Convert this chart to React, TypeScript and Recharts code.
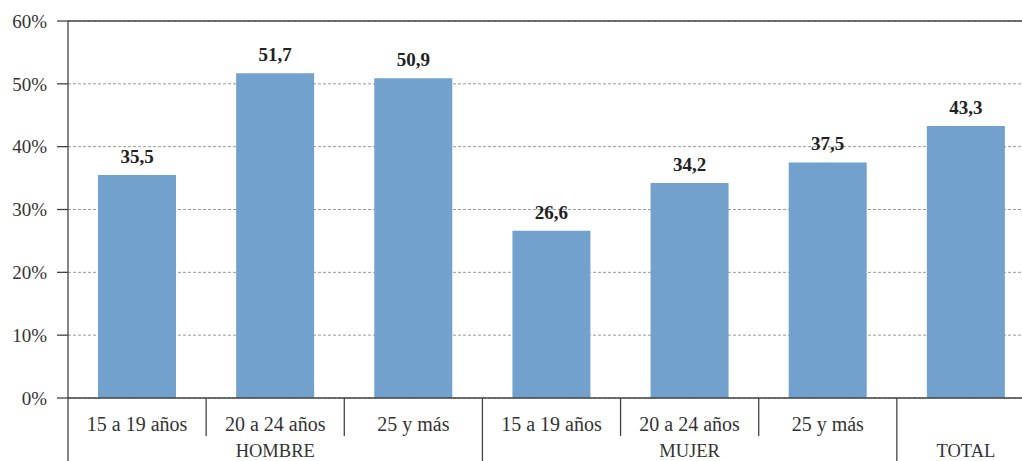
import { Bar, BarChart, CartesianGrid, LabelList, ReferenceLine, XAxis, YAxis } from "recharts";

const edades = ["15 a 19 años", "20 a 24 años", "25 y más", "15 a 19 años", "20 a 24 años", "25 y más", ""];
const grupos = ["HOMBRE", "HOMBRE", "HOMBRE", "MUJER", "MUJER", "MUJER", "TOTAL"];
const valores = [35.5, 51.7, 50.9, 26.6, 34.2, 37.5, 43.3];
const yTicks = [0, 10, 20, 30, 40, 50, 60];

const data = valores.map((v, i) => ({ edad: edades[i], grupo: grupos[i], valor: v }));

const W = 1022;
const CW = 1035; // plot runs slightly past the right edge
const H = 461;
const LEFT = 68;
const AXIS_H = 63;
const BASE = H - AXIS_H;
const band = (CW - LEFT) / valores.length;
const FONT = "'Liberation Serif', 'DejaVu Serif', serif";

// second-level axis: age labels, separators and group names
function TwoLevelTick(props: any) {
  const { x, payload } = props;
  const i = payload.index;
  const left = x - band / 2;
  const groupStart = i === 0 || grupos[i] !== grupos[i - 1];
  const groupIdx = grupos.map((g, k) => (g === grupos[i] ? k : -1)).filter((k) => k >= 0);
  const mid = groupIdx[Math.floor(groupIdx.length / 2)];
  return (
    <g>
      <line x1={left} y1={BASE} x2={left} y2={groupStart ? H : BASE + 38} stroke="#444" strokeWidth={1.3} />
      <text x={x} y={BASE + 33} textAnchor="middle" fontFamily={FONT} fontSize={20} fill="#333">
        {edades[i]}
      </text>
      {mid === i && (
        <text x={x} y={BASE + 59} textAnchor="middle" fontFamily={FONT} fontSize={18.5} fill="#333">
          {grupos[i]}
        </text>
      )}
    </g>
  );
}

export default function App() {
  return (
    <div style={{ position: "absolute", left: 0, top: 0, width: W, height: H, overflow: "hidden", background: "#fff" }}>
      <BarChart width={CW} height={H} data={data} margin={{ top: 21, right: 0, left: 0, bottom: 0 }} barSize={78}>
        <CartesianGrid vertical={false} stroke="#999" strokeDasharray="3 2" />
        <XAxis
          dataKey="edad"
          height={AXIS_H}
          interval={0}
          axisLine={{ stroke: "#444", strokeWidth: 1.3 }}
          tickLine={false}
          tick={<TwoLevelTick />}
        />
        <YAxis
          width={LEFT}
          domain={[0, 60]}
          ticks={yTicks}
          tickFormatter={(v: number) => `${v}%`}
          axisLine={{ stroke: "#444", strokeWidth: 1.3 }}
          tickLine={{ stroke: "#444", strokeWidth: 1.3 }}
          tickSize={11}
          tickMargin={10}
          tick={{ fontFamily: FONT, fontSize: 19, fill: "#333" }}
        />
        <ReferenceLine y={60} stroke="#444" strokeWidth={1.3} />
        <Bar dataKey="valor" fill="#71a1cc" isAnimationActive={false}>
          <LabelList
            dataKey="valor"
            position="top"
            offset={12}
            formatter={(v: any) => String(v).replace(".", ",")}
            style={{ fontFamily: FONT, fontSize: 19, fontWeight: "bold", fill: "#222" }}
          />
        </Bar>
      </BarChart>
    </div>
  );
}
